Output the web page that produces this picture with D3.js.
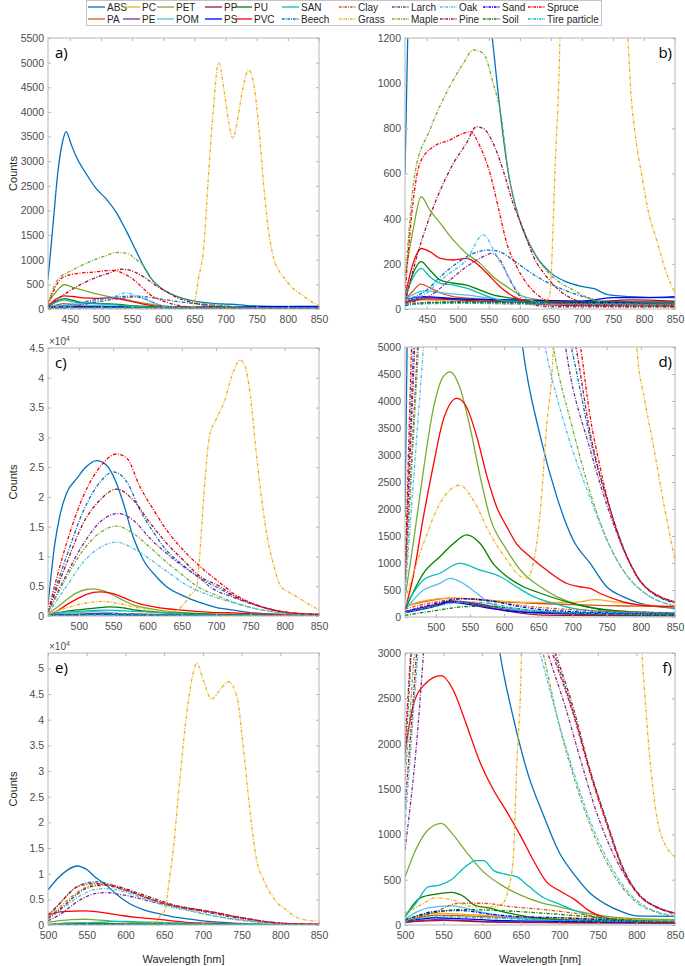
<!DOCTYPE html>
<html>
<head>
<meta charset="utf-8">
<script src="https://cdn.jsdelivr.net/npm/d3@7"></script>
<style>
body { margin: 0; background: #fff; }
text { font-family: "Liberation Sans", Arial, sans-serif; }
</style>
</head>
<body>
<svg id="chart" width="685" height="966"></svg>
<script>
//Series names, legend order (column-major, 2 rows)
var seriesNames = ["ABS", "PA", "PC", "PE", "PET", "POM", "PP", "PS", "PU", "PVC", "SAN",
                   "Beech", "Clay", "Grass", "Larch", "Maple", "Oak", "Pine", "Sand", "Soil", "Spruce", "Tire particle"];
var seriesColors = ["#0072BD", "#D95319", "#EDB120", "#7E2F8E", "#77AC30", "#4DBEEE", "#A2142F", "#0000FF", "#008000", "#FF0000", "#00BFBF",
                    "#0072BD", "#D95319", "#EDB120", "#7E2F8E", "#77AC30", "#4DBEEE", "#A2142F", "#0000FF", "#008000", "#FF0000", "#00BFBF"];
var seriesDashed = [false, false, false, false, false, false, false, false, false, false, false,
                    true, true, true, true, true, true, true, true, true, true, true];

//Spectra for panels a) and b): [wavelength, counts]
var spectraA = [
    [[415,600],[423,1700],[431,2800],[439,3430],[444,3600],[452,3350],[460,3100],[476,2750],[492,2450],[508,2240],[524,1970],[540,1600],[556,1190],[572,790],[581,610],[600,390],[625,240],[650,160],[675,120],[700,100],[720,90],[740,65],[775,55],[850,50]], //ABS
    [[415,40],[428,80],[440,110],[455,95],[471,72],[493,55],[525,47],[580,40],[700,35],[850,30]], //PA
    [[415,20],[440,40],[500,35],[600,30],[700,28],[850,25]], //PC
    [[415,30],[445,50],[500,45],[600,35],[700,30],[850,30]], //PE
    [[415,143],[428,350],[441,497],[455,438],[472,379],[493,305],[514,246],[536,202],[557,143],[579,99],[600,62],[632,40],[686,25],[850,20]], //PET
    [[415,40],[445,80],[480,70],[520,60],[560,45],[650,30],[850,25]], //POM
    [[415,30],[450,45],[550,35],[700,30],[780,40],[850,35]], //PP
    [[415,40],[445,55],[500,45],[600,40],[700,35],[750,50],[800,50],[850,55]], //PS
    [[415,40],[428,158],[441,210],[455,173],[472,128],[493,114],[514,106],[536,84],[557,62],[590,47],[632,32],[700,30],[850,28]], //PU
    [[415,55],[428,202],[441,268],[455,254],[472,224],[493,217],[514,224],[530,202],[547,158],[568,99],[590,55],[611,32],[643,18],[700,15],[850,15]], //PVC
    [[415,55],[428,140],[441,180],[455,143],[472,114],[493,106],[514,92],[536,69],[557,47],[590,32],[650,25],[850,22]], //SAN
    [[415,40],[450,84],[472,143],[498,202],[525,246],[552,261],[567,254],[589,217],[611,173],[632,136],[659,99],[686,69],[713,47],[740,32],[850,25]], //Beech
    [[415,20],[450,30],[600,30],[850,25]], //Clay
    [[415,20],[440,25],[500,30],[550,25],[620,20],[640,30],[648,60],[657,645],[665,1250],[672,2600],[680,4000],[689,5000],[698,4400],[705,3800],[712,3460],[720,3900],[728,4500],[737,4850],[746,4500],[754,3600],[762,2400],[770,1500],[778,1000],[787,750],[796,600],[808,420],[820,310],[835,170],[850,70]], //Grass
    [[415,25],[461,69],[487,128],[514,187],[541,232],[555,246],[568,217],[584,128],[600,55],[622,18],[650,10],[850,10]], //Larch
    [[415,114],[431,600],[455,793],[487,985],[509,1088],[525,1147],[541,1132],[557,1000],[570,852],[581,615],[598,409],[616,290],[638,187],[659,128],[686,84],[718,40],[767,18],[850,10]], //Maple
    [[415,40],[450,70],[461,99],[487,158],[514,217],[541,328],[563,232],[579,158],[595,84],[616,40],[643,25],[700,20],[850,18]], //Oak
    [[415,25],[434,232],[455,409],[472,527],[493,645],[514,734],[530,807],[541,800],[557,734],[573,615],[589,468],[606,350],[622,232],[643,143],[670,69],[697,32],[740,12],[850,10]], //Pine
    [[415,15],[440,25],[500,30],[600,25],[700,30],[850,20]], //Sand
    [[415,20],[500,30],[700,25],[850,20]], //Soil
    [[415,60],[426,424],[439,645],[461,719],[487,748],[509,778],[520,785],[536,719],[552,600],[565,453],[579,291],[595,187],[611,114],[632,55],[659,25],[700,20],[850,18]], //Spruce
    [[415,20],[500,25],[700,20],[850,20]] //Tire particle
];

//Spectra for panels c) and d)
var spectraB = [
    [[455,1850],[465,12200],[472,16700],[482,20600],[497,23100],[511,25100],[526,26100],[540,25350],[553,22800],[565,18900],[579,13300],[594,9400],[613,6600],[627,5000],[653,3340],[677,2230],[701,1425],[726,993],[750,560],[774,376],[799,253],[850,160]], //ABS
    [[455,200],[482,280],[520,350],[560,320],[600,280],[650,250],[700,230],[750,210],[800,200],[850,190]], //PA
    [[455,190],[482,300],[520,350],[560,330],[600,290],[650,270],[700,270],[735,320],[760,280],[800,230],[850,180]], //PC
    [[455,100],[500,230],[525,300],[560,250],[600,150],[650,70],[700,50],[850,30]], //PE
    [[455,350],[467,1360],[482,2720],[496,3830],[511,4450],[521,4540],[535,4260],[550,3520],[565,2600],[579,1860],[604,1240],[628,810],[653,560],[677,376],[701,253],[750,130],[850,40]], //PET
    [[455,130],[482,500],[506,623],[521,715],[540,623],[560,440],[579,253],[604,160],[653,100],[774,70],[850,60]], //POM
    [[455,80],[500,220],[525,290],[560,230],[600,120],[650,40],[700,30],[850,20]], //PP
    [[455,80],[500,200],[520,270],[545,240],[575,170],[610,110],[650,80],[700,70],[800,50],[850,40]], //PS
    [[455,130],[482,810],[506,1117],[526,1360],[545,1520],[565,1360],[584,990],[604,750],[628,560],[653,440],[701,250],[750,130],[850,70]], //PU
    [[455,130],[467,750],[482,1860],[496,2780],[511,3650],[531,4050],[545,3890],[560,3340],[575,2600],[589,2040],[604,1670],[618,1360],[638,1117],[662,870],[692,620],[711,560],[726,530],[740,440],[765,315],[799,220],[850,190]], //PVC
    [[455,190],[482,685],[506,810],[535,993],[565,870],[594,750],[618,560],[643,376],[672,253],[701,160],[750,100],[850,70]], //SAN
    [[455,700],[482,10000],[506,17500],[531,22500],[550,24200],[570,22500],[589,17800],[609,14000],[628,11000],[652,8500],[677,6300],[705,4600],[726,3300],[755,2000],[784,1000],[800,650],[850,250]], //Beech
    [[455,150],[500,280],[540,340],[580,300],[620,220],[680,150],[750,110],[850,80]], //Clay
    [[455,300],[482,1360],[506,2100],[535,2440],[555,2160],[579,1550],[604,1055],[623,760],[633,720],[643,1000],[653,1980],[662,3500],[672,5000],[676,10000],[682,20000],[690,30000],[700,33000],[712,36000],[725,41000],[735,43000],[742,42000],[750,37000],[758,28000],[766,20000],[775,13000],[784,8500],[794,5000],[806,4000],[818,3200],[835,2000],[850,1050]], //Grass
    [[455,500],[482,7000],[506,12000],[531,15800],[557,17200],[580,16000],[604,13000],[628,10500],[652,8300],[677,6300],[690,5000],[726,3100],[755,1900],[784,1000],[800,650],[850,270]], //Larch
    [[455,500],[482,6500],[506,11000],[531,14000],[555,15100],[580,13800],[604,11500],[628,9000],[652,6800],[672,5000],[700,3500],[726,2300],[755,1300],[784,700],[800,500],[850,200]], //Maple
    [[455,400],[482,5000],[506,9000],[531,11500],[555,12400],[580,11300],[604,9500],[628,7500],[660,5000],[690,3500],[726,2200],[755,1300],[784,700],[800,500],[850,200]], //Oak
    [[455,700],[482,8800],[506,15500],[531,19500],[555,21300],[579,19500],[604,15600],[628,12200],[652,9400],[677,6600],[705,5000],[726,3400],[755,2000],[784,1000],[800,650],[850,280]], //Pine
    [[455,100],[500,250],[540,340],[580,300],[620,200],[660,130],[700,100],[800,60],[850,50]], //Sand
    [[455,30],[500,120],[540,190],[570,200],[600,180],[650,110],[700,70],[800,40],[850,30]], //Soil
    [[455,730],[482,12200],[506,20000],[531,25070],[555,27200],[570,26470],[589,21700],[609,17800],[628,14400],[652,11080],[677,8280],[701,6000],[712,5000],[726,3700],[740,2800],[755,2000],[770,1400],[784,1000],[800,650],[825,400],[850,280]], //Spruce
    [[455,80],[500,200],[540,280],[580,250],[620,150],[680,90],[750,60],[850,40]] //Tire particle
];

//Spectra for panels e) and f)
var spectraC = [
    [[500,6800],[512,9000],[525,10700],[538,11500],[550,10800],[562,9200],[575,7800],[590,5800],[605,4200],[623,3000],[640,2300],[660,1650],[680,1200],[700,800],[720,550],[740,350],[760,230],[780,150],[800,100],[850,95]], //ABS
    [[500,40],[540,110],[580,100],[640,80],[700,60],[800,50],[850,40]], //PA
    [[500,60],[540,130],[570,120],[620,100],[700,80],[800,60],[850,50]], //PC
    [[500,30],[540,60],[600,40],[700,30],[850,20]], //PE
    [[500,530],[515,850],[530,1050],[547,1120],[562,1000],[580,800],[600,600],[625,440],[650,330],[675,250],[700,200],[725,150],[750,110],[800,70],[850,60]], //PET
    [[500,70],[530,190],[560,210],[600,140],[640,80],[700,50],[850,30]], //POM
    [[500,30],[550,50],[600,35],[700,25],[850,20]], //PP
    [[500,40],[540,80],[570,70],[620,50],[700,40],[850,30]], //PS
    [[500,90],[520,300],[540,340],[560,360],[575,320],[590,220],[610,185],[630,140],[660,90],[700,60],[760,45],[850,30]], //PU
    [[500,1900],[510,2400],[525,2650],[547,2750],[562,2600],[578,2250],[597,1800],[614,1500],[632,1250],[650,980],[666,720],[684,470],[700,380],[720,280],[740,150],[760,80],[790,40],[850,30]], //PVC
    [[500,90],[515,250],[530,420],[545,440],[560,500],[578,640],[592,710],[602,710],[615,600],[630,560],[645,530],[660,430],[680,300],[700,230],[720,160],[740,100],[760,60],[800,45],[850,40]], //SAN
    [[500,1800],[510,3300],[520,5000],[535,7200],[550,8200],[563,8400],[578,8000],[595,7000],[615,6000],[640,4700],[665,3700],[695,2950],[718,2350],[740,1700],[761,1150],[783,620],[805,320],[826,200],[850,130]], //Beech
    [[500,40],[540,150],[570,240],[600,240],[640,200],[680,170],[720,130],[760,80],[800,50],[850,40]], //Clay
    [[500,130],[520,220],[540,300],[560,280],[588,200],[614,200],[627,240],[634,400],[640,700],[645,1780],[651,3000],[656,8000],[662,15000],[670,28000],[679,41000],[686,48000],[692,51000],[701,47500],[711,44000],[722,45800],[733,47400],[744,44500],[752,35000],[761,22000],[769,13000],[778,9000],[786,6500],[795,4500],[807,3000],[818,1780],[830,1050],[850,750]], //Grass
    [[500,830],[515,2000],[530,3700],[545,5200],[560,6100],[575,6300],[592,6000],[612,5400],[635,4500],[660,3700],[685,3000],[708,2400],[730,1750],[750,1200],[772,750],[795,420],[815,250],[835,160],[850,120]], //Larch
    [[500,1600],[512,3000],[525,4800],[540,6600],[555,7700],[572,8000],[590,7500],[610,6400],[635,4900],[660,3700],[679,3000],[700,2200],[720,1600],[740,1100],[761,700],[783,400],[805,220],[826,140],[850,90]], //Maple
    [[500,1100],[515,2800],[530,4500],[545,6000],[560,6900],[575,7100],[592,6700],[612,5800],[635,4600],[655,3600],[675,3000],[697,2300],[720,1650],[740,1150],[761,750],[783,430],[805,240],[826,150],[850,100]], //Oak
    [[500,1300],[515,3000],[530,5000],[545,6800],[560,7600],[578,7800],[595,7300],[615,6300],[640,5000],[665,3800],[695,3000],[718,2400],[740,1700],[761,1150],[783,620],[805,320],[826,200],[850,130]], //Pine
    [[500,50],[540,150],[570,160],[610,120],[650,90],[700,80],[750,60],[800,40],[850,30]], //Sand
    [[500,60],[540,140],[570,170],[620,160],[680,130],[740,90],[800,50],[850,30]], //Soil
    [[500,2000],[510,3400],[520,5000],[533,7000],[548,7900],[560,8100],[575,7800],[590,7200],[610,6300],[625,5400],[650,4200],[675,3400],[695,2900],[718,2330],[740,1670],[761,1120],[783,600],[805,310],[826,200],[850,130]], //Spruce
    [[500,40],[540,90],[600,80],[700,50],[850,40]] //Tire particle
];

//Axis ticks
var xTicksA = [450, 500, 550, 600, 650, 700, 750, 800, 850];
var xTicksB = [500, 550, 600, 650, 700, 750, 800, 850];
var yTicksA = [0, 500, 1000, 1500, 2000, 2500, 3000, 3500, 4000, 4500, 5000, 5500];
var yTicksB = [0, 200, 400, 600, 800, 1000, 1200];
var yTicksC = [0, 5000, 10000, 15000, 20000, 25000, 30000, 35000, 40000, 45000];
var yTicksD = [0, 500, 1000, 1500, 2000, 2500, 3000, 3500, 4000, 4500, 5000];
var yTicksE = [0, 5000, 10000, 15000, 20000, 25000, 30000, 35000, 40000, 45000, 50000];
var yTicksF = [0, 500, 1000, 1500, 2000, 2500, 3000];

//Panel layout
var panels = [
    {label: "a)", data: spectraA, left: 48,  right: 319, top: 38,  bottom: 309, xDomain: [415, 850], yMax: 5500,  xTicks: xTicksA, yTicks: yTicksA, exp: false, counts: true,  wave: false, labelRight: false},
    {label: "b)", data: spectraA, left: 405, right: 675, top: 38,  bottom: 309, xDomain: [415, 850], yMax: 1200,  xTicks: xTicksA, yTicks: yTicksB, exp: false, counts: false, wave: false, labelRight: true},
    {label: "c)", data: spectraB, left: 48,  right: 319, top: 348, bottom: 616, xDomain: [455, 850], yMax: 45000, xTicks: xTicksB, yTicks: yTicksC, exp: true,  counts: true,  wave: false, labelRight: false},
    {label: "d)", data: spectraB, left: 405, right: 675, top: 347, bottom: 617, xDomain: [455, 850], yMax: 5000,  xTicks: xTicksB, yTicks: yTicksD, exp: false, counts: false, wave: false, labelRight: true},
    {label: "e)", data: spectraC, left: 48,  right: 319, top: 653, bottom: 925, xDomain: [500, 850], yMax: 53000, xTicks: xTicksB, yTicks: yTicksE, exp: true,  counts: true,  wave: true,  labelRight: false},
    {label: "f)", data: spectraC, left: 405, right: 675, top: 653, bottom: 925, xDomain: [500, 850], yMax: 3000,  xTicks: xTicksB, yTicks: yTicksF, exp: false, counts: false, wave: true,  labelRight: true}
];

var svg = d3.select("#chart");
var axisGrey = "#b5b5b5";
var labelGrey = "#4d4d4d";
var dashPattern = "3.5,1.5,1,1.5";

panels.forEach(function(p, pi) {
    var xScale = d3.scaleLinear().domain(p.xDomain).range([p.left, p.right]);
    var yScale = d3.scaleLinear().domain([0, p.yMax]).range([p.bottom, p.top]);
    var g = svg.append("g");

    //Clip to plot box
    var clipId = "clip" + pi;
    svg.append("clipPath").attr("id", clipId)
        .append("rect")
        .attr("x", p.left).attr("y", p.top)
        .attr("width", p.right - p.left).attr("height", p.bottom - p.top);

    //Lines
    var lineGen = d3.line()
        .x(function(d){ return xScale(d[0]); })
        .y(function(d){ return yScale(d[1]); })
        .curve(d3.curveMonotoneX);

    var lines = g.append("g").attr("clip-path", "url(#" + clipId + ")");
    p.data.forEach(function(s, i) {
        lines.append("path")
            .attr("d", lineGen(s))
            .attr("fill", "none")
            .attr("stroke", seriesColors[i])
            .attr("stroke-width", 1.3)
            .attr("stroke-dasharray", seriesDashed[i] ? dashPattern : null);
    });

    //Axes, ticks pointing inward
    var yFmt = p.exp ? function(d){ return String(+(d / 1e4).toFixed(1)); } : d3.format("d");
    var yAxis = g.append("g")
        .attr("transform", "translate(" + p.left + ",0)")
        .call(d3.axisLeft(yScale).tickValues(p.yTicks).tickFormat(yFmt).tickSize(-3).tickPadding(4));
    var yAxisR = g.append("g")
        .attr("transform", "translate(" + p.right + ",0)")
        .call(d3.axisRight(yScale).tickValues(p.yTicks).tickFormat("").tickSize(-3));
    var xAxis = g.append("g")
        .attr("transform", "translate(0," + p.bottom + ")")
        .call(d3.axisBottom(xScale).tickValues(p.xTicks).tickFormat(d3.format("d")).tickSize(-3).tickPadding(7));
    var xAxisT = g.append("g")
        .attr("transform", "translate(0," + p.top + ")")
        .call(d3.axisTop(xScale).tickValues(p.xTicks).tickFormat("").tickSize(-3));

    [yAxis, yAxisR, xAxis, xAxisT].forEach(function(ax) {
        ax.select(".domain").remove();
        ax.selectAll(".tick line").attr("stroke", axisGrey);
        ax.selectAll("text")
            .attr("fill", labelGrey)
            .style("font-size", "10.5px")
            .style("font-family", "'Liberation Sans', Arial, sans-serif");
    });

    //Box
    g.append("rect")
        .attr("x", p.left).attr("y", p.top)
        .attr("width", p.right - p.left).attr("height", p.bottom - p.top)
        .attr("fill", "none")
        .attr("stroke", axisGrey)
        .attr("stroke-width", 1);

    //Exponent label
    if (p.exp) {
        var ex = g.append("text")
            .attr("x", p.left + 1)
            .attr("y", p.top - 3)
            .attr("fill", labelGrey)
            .style("font-size", "10px");
        ex.append("tspan").text("\u00d710");
        ex.append("tspan").attr("dy", -4).style("font-size", "7px").text("4");
    }

    //Panel letter
    g.append("text")
        .attr("x", p.labelRight ? p.right - 3 : p.left + 7)
        .attr("y", p.top + 20)
        .attr("text-anchor", p.labelRight ? "end" : "start")
        .attr("fill", "#000")
        .style("font-family", "'Open Sans', 'Liberation Sans', sans-serif")
        .style("font-size", "15px")
        .text(p.label);

    //Axis titles
    if (p.counts) {
        g.append("text")
            .attr("transform", "rotate(-90)")
            .attr("x", -(p.top + p.bottom) / 2)
            .attr("y", 17)
            .attr("text-anchor", "middle")
            .attr("fill", "#262626")
            .style("font-size", "11px")
            .text("Counts");
    }
    if (p.wave) {
        g.append("text")
            .attr("x", (p.left + p.right) / 2)
            .attr("y", 963)
            .attr("text-anchor", "middle")
            .attr("fill", "#262626")
            .style("font-size", "11px")
            .text("Wavelength [nm]");
    }
});

//Legend, 2 rows, column-major
var legendCols = [88, 123, 157, 205, 235, 282, 339, 392, 440, 483, 528];
var legend = svg.append("g");
legend.append("rect")
    .attr("x", 86.5).attr("y", 0.5)
    .attr("width", 515).attr("height", 25)
    .attr("fill", "#fff")
    .attr("stroke", "#c4c4c4");

seriesNames.forEach(function(name, i) {
    var col = Math.floor(i / 2);
    var row = i % 2;
    var x = legendCols[col];
    var y = 7 + row * 12;
    legend.append("line")
        .attr("x1", x).attr("x2", x + 17)
        .attr("y1", y).attr("y2", y)
        .attr("stroke", seriesColors[i])
        .attr("stroke-width", 1.3)
        .attr("stroke-dasharray", seriesDashed[i] ? "2.5,1,1,1" : null);
    legend.append("text")
        .attr("x", x + 19)
        .attr("y", y)
        .attr("dy", "0.35em")
        .attr("fill", "#262626")
        .style("font-size", "10px")
        .text(name);
});
</script>
</body>
</html>
